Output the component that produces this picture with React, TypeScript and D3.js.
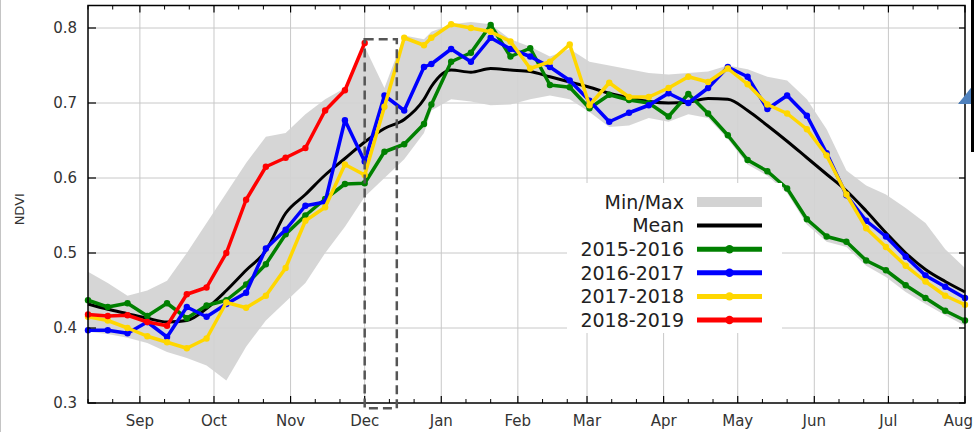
import * as d3 from 'd3';

// 8-day composite dates of the season (the year break gives one short step)
const dates = [
  '2018-08-11', '2018-08-19', '2018-08-27', '2018-09-04', '2018-09-12', '2018-09-20',
  '2018-09-28', '2018-10-06', '2018-10-14', '2018-10-22', '2018-10-30', '2018-11-07',
  '2018-11-15', '2018-11-23', '2018-12-01', '2018-12-09', '2018-12-17', '2018-12-25',
  '2018-12-28', '2019-01-05', '2019-01-13', '2019-01-21', '2019-01-29', '2019-02-06',
  '2019-02-14', '2019-02-22', '2019-03-02', '2019-03-10', '2019-03-18', '2019-03-26',
  '2019-04-03', '2019-04-11', '2019-04-19', '2019-04-27', '2019-05-05', '2019-05-13',
  '2019-05-21', '2019-05-29', '2019-06-06', '2019-06-14', '2019-06-22', '2019-06-30',
  '2019-07-08', '2019-07-16', '2019-07-24', '2019-08-01',
];

const bandMax = [
  0.475, 0.46, 0.443, 0.45, 0.463, 0.5, 0.54, 0.58, 0.62, 0.655, 0.66, 0.685,
  0.705, 0.72, 0.775, 0.72, 0.79, 0.785,
  0.795, 0.805, 0.808, 0.805, 0.785, 0.775, 0.762, 0.772, 0.755, 0.75, 0.745, 0.74,
  0.738, 0.74, 0.742, 0.75, 0.745, 0.735, 0.73, 0.705, 0.665, 0.61, 0.59, 0.578,
  0.56, 0.54, 0.505, 0.48,
];
const bandMin = [
  0.395, 0.392, 0.387, 0.38, 0.368, 0.36, 0.35, 0.33, 0.375, 0.41, 0.435, 0.46,
  0.5, 0.535, 0.575, 0.6, 0.625, 0.66,
  0.69, 0.705, 0.702, 0.697, 0.698, 0.705, 0.71, 0.705, 0.688, 0.668, 0.67, 0.68,
  0.675, 0.685, 0.68, 0.652, 0.618, 0.603, 0.58, 0.538, 0.515, 0.508, 0.483, 0.468,
  0.448, 0.432, 0.417, 0.403,
];
const meanValues = [
  0.432, 0.425, 0.419, 0.413, 0.408, 0.41, 0.426, 0.45, 0.477, 0.503, 0.553, 0.578,
  0.604, 0.626, 0.648, 0.666, 0.678, 0.705,
  0.722, 0.744, 0.741, 0.746, 0.744, 0.742, 0.735, 0.728, 0.721, 0.713, 0.707, 0.702,
  0.7, 0.701, 0.706, 0.705, 0.69, 0.67, 0.649, 0.627, 0.605, 0.583, 0.556, 0.527,
  0.5, 0.478, 0.462, 0.448,
];
const v2015 = [
  0.437, 0.428, 0.433, 0.416, 0.433, 0.413, 0.43, 0.437, 0.458, 0.485, 0.525, 0.55,
  0.572, 0.592, 0.593, 0.635, 0.645, 0.672,
  0.698, 0.755, 0.767, 0.804, 0.762, 0.773, 0.724, 0.721, 0.693, 0.711, 0.704, 0.7,
  0.682, 0.712, 0.686, 0.657, 0.624, 0.609, 0.586, 0.545, 0.522, 0.515, 0.49, 0.477,
  0.457, 0.44, 0.423, 0.41,
];
const v2016 = [
  0.397, 0.397, 0.393, 0.408, 0.388, 0.428, 0.415, 0.432, 0.447, 0.506, 0.531, 0.563,
  0.568, 0.677, 0.622, 0.71, 0.69, 0.748,
  0.752, 0.772, 0.755, 0.787, 0.772, 0.762, 0.748, 0.73, 0.703, 0.675, 0.687, 0.697,
  0.713, 0.7, 0.72, 0.748, 0.735, 0.692, 0.71, 0.683, 0.633, 0.577, 0.543, 0.522,
  0.495, 0.47, 0.455, 0.44,
];
const v2017 = [
  0.415, 0.41, 0.4, 0.389, 0.381, 0.373, 0.386, 0.434, 0.427, 0.443, 0.48, 0.543,
  0.561, 0.618, 0.604, 0.695, 0.787, 0.777,
  0.787, 0.805, 0.8, 0.795, 0.782, 0.746, 0.755, 0.778, 0.697, 0.727, 0.708, 0.708,
  0.72, 0.735, 0.728, 0.746, 0.725, 0.698, 0.686, 0.665, 0.63, 0.578, 0.533, 0.508,
  0.483, 0.462, 0.443, 0.431,
];
const v2018 = [
  0.418, 0.416, 0.417, 0.408, 0.403, 0.445, 0.454, 0.5, 0.571, 0.615, 0.627, 0.64,
  0.69, 0.717, 0.78,
];

const seasons = [
  { name: '2015-2016', color: '#008000', values: v2015 },
  { name: '2016-2017', color: '#0000ff', values: v2016 },
  { name: '2017-2018', color: '#ffd700', values: v2017 },
  { name: '2018-2019', color: '#ff0000', values: v2018 },
];
const yTicks = [0.3, 0.4, 0.5, 0.6, 0.7, 0.8];

// highlighted period (dashed box)
const boxStart = '2018-12-01';
const boxEnd = '2018-12-14';
const boxRange = [0.293, 0.785];

const parse = d3.timeParse('%Y-%m-%d');
const font = '"DejaVu Sans", Verdana, sans-serif';

export default function App() {
  const width = 974;
  const height = 432;
  const left = 88, right = 965, top = 5.5, bottom = 403;

  const x = d3.scaleTime()
    .domain([parse('2018-08-11')!, parse('2019-08-01')!])
    .range([left, right]);
  const y = d3.scaleLinear().domain([0.3, 0.83]).range([bottom, top]);

  const days = dates.map((d) => parse(d)!);
  const months = d3.timeMonth.range(parse('2018-09-01')!, parse('2019-08-02')!);
  const minor = d3.timeDay
    .range(x.domain()[0], parse('2019-08-02')!)
    .filter((d) => d.getDate() === 11 || d.getDate() === 21);

  const area = d3.area<number>()
    .x((_, i) => x(days[i]))
    .y0((_, i) => y(bandMin[i]))
    .y1((d) => y(d));
  const line = d3.line<number>()
    .x((_, i) => x(days[i]))
    .y((d) => y(d));
  const smooth = d3.line<number>()
    .x((_, i) => x(days[i]))
    .y((d) => y(d))
    .curve(d3.curveMonotoneX);

  const legendRows = ['Min/Max', 'Mean', ...seasons.map((s) => s.name)];
  const lg = { x: 567, y: 183, w: 215, h: 150, row0: 202, step: 23.6, textX: 684, sw0: 697, sw1: 762 };

  return (
    <svg width={width} height={height} style={{ position: 'absolute', left: 0, top: 0, background: '#fff' }}
      fontFamily={font}>
      <rect width={width} height={height} fill="#fff" />
      <line x1={0.5} x2={0.5} y1={0} y2={height} stroke="#c4c4c4" strokeWidth={1} />

      {/* grid */}
      {yTicks.slice(1).map((t) => (
        <line key={t} x1={left} x2={right} y1={y(t)} y2={y(t)} stroke="#c8c8c8" strokeWidth={1} />
      ))}
      {months.slice(0, -1).map((m) => (
        <line key={+m} x1={x(m)} x2={x(m)} y1={top} y2={bottom} stroke="#c8c8c8" strokeWidth={1} />
      ))}

      {/* min/max band */}
      <path d={area(bandMax) ?? ''} fill="#d3d3d3" opacity={0.92} />

      {/* mean */}
      <path d={smooth(meanValues) ?? ''} fill="none" stroke="#000" strokeWidth={3} />

      {/* seasons */}
      {seasons.map((s) => (
        <g key={s.name}>
          <path d={line(s.values) ?? ''} fill="none" stroke={s.color} strokeWidth={3.5} strokeLinejoin="round" />
          {s.values.map((v, i) => (
            <circle key={i} cx={x(days[i])} cy={y(v)} r={3.2} fill={s.color} />
          ))}
        </g>
      ))}

      {/* frame and ticks */}
      <rect x={left} y={top} width={right - left} height={bottom - top} fill="none" stroke="#000" strokeWidth={1.5} />
      {months.map((m, i) => {
        const last = i === months.length - 1;
        return (
          <g key={+m}>
            <line x1={x(m)} x2={x(m)} y1={bottom} y2={bottom - 7} stroke="#000" strokeWidth={1.2} />
            <line x1={x(m)} x2={x(m)} y1={top} y2={top + 7} stroke="#000" strokeWidth={1.2} />
            <text x={last ? width - 1 : x(m)} y={426} textAnchor={last ? 'end' : 'middle'} fontSize={15} fill="#333">
              {d3.timeFormat('%b')(m)}
            </text>
          </g>
        );
      })}
      {minor.map((m) => (
        <g key={+m}>
          <line x1={x(m)} x2={x(m)} y1={bottom} y2={bottom - 4} stroke="#000" strokeWidth={1} />
          <line x1={x(m)} x2={x(m)} y1={top} y2={top + 4} stroke="#000" strokeWidth={1} />
        </g>
      ))}
      {yTicks.map((t) => (
        <g key={t}>
          <line x1={left} x2={left + 8} y1={y(t)} y2={y(t)} stroke="#000" strokeWidth={1.2} />
          <line x1={right} x2={right - 6} y1={y(t)} y2={y(t)} stroke="#000" strokeWidth={1.2} />
          <text x={77} y={y(t)} dy="0.36em" textAnchor="end" fontSize={15} fill="#333">
            {d3.format('.1f')(t)}
          </text>
        </g>
      ))}
      <text transform={`translate(24,${(top + bottom) / 2 + 5}) rotate(-90)`} textAnchor="middle" fontSize={13} fill="#333">
        NDVI
      </text>

      {/* legend */}
      <rect x={lg.x} y={lg.y} width={lg.w} height={lg.h} fill="#fff" />
      {legendRows.map((name, i) => {
        const cy = lg.row0 + i * lg.step;
        const s = seasons.find((d) => d.name === name);
        return (
          <g key={name}>
            <text x={lg.textX} y={cy} dy="0.36em" textAnchor="end" fontSize={19} fill="#222">{name}</text>
            {i === 0 && <rect x={lg.sw0} y={cy - 5} width={lg.sw1 - lg.sw0} height={10} fill="#d3d3d3" />}
            {i === 1 && <line x1={lg.sw0} x2={lg.sw1} y1={cy} y2={cy} stroke="#000" strokeWidth={4} />}
            {s && (
              <g>
                <line x1={lg.sw0} x2={lg.sw1} y1={cy} y2={cy} stroke={s.color} strokeWidth={5} />
                <circle cx={(lg.sw0 + lg.sw1) / 2} cy={cy} r={4.2} fill={s.color} />
              </g>
            )}
          </g>
        );
      })}

      {/* annotation box */}
      <rect x={x(parse(boxStart)!)} y={y(boxRange[1])}
        width={x(parse(boxEnd)!) - x(parse(boxStart)!)} height={y(boxRange[0]) - y(boxRange[1])}
        fill="none" stroke="#555" strokeWidth={2.5} strokeDasharray="9,5" />

      {/* cropped shapes at right edge */}
      <polygon points="958,104 974,84 974,104" fill="#4f81bd" />
      <line x1={972.5} x2={972.5} y1={0} y2={152} stroke="#000" strokeWidth={3} />
    </svg>
  );
}
